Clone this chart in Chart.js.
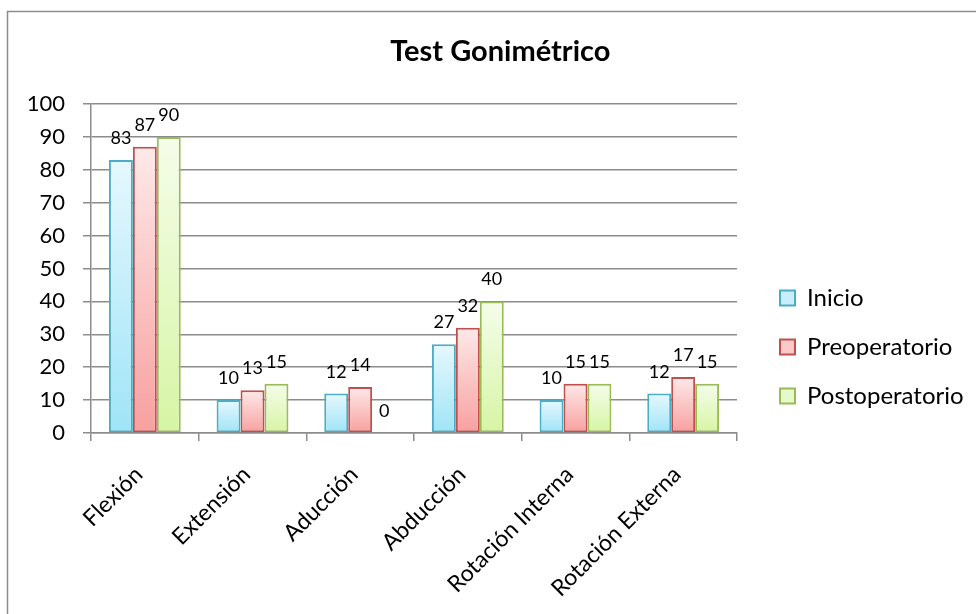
<!DOCTYPE html>
<html>
<head>
<meta charset="utf-8">
<script src="https://cdn.jsdelivr.net/npm/chart.js@4"></script>
<style>
  body { margin: 0; background: #fff; }
  #wrap { width: 976px; height: 614px; position: relative; }
</style>
</head>
<body>
<div id="wrap"><canvas id="grafica"></canvas></div>
<script>
const titulo = 'Test Gonimétrico';
const categorias = ['Flexión', 'Extensión', 'Aducción', 'Abducción', 'Rotación Interna', 'Rotación Externa'];
const series = ['Inicio', 'Preoperatorio', 'Postoperatorio'];
const inicio = [83, 10, 12, 27, 10, 12];
const preoperatorio = [87, 13, 14, 32, 15, 17];
const postoperatorio = [90, 15, 0, 40, 15, 15];
const ticksY = [0, 10, 20, 30, 40, 50, 60, 70, 80, 90, 100];

const fuente = 'Lato';
// colores: [arriba, abajo, borde, relleno leyenda]
const colores = [
  ['#e6f8fe', '#9fe4f7', '#4bacc6', '#c9eef9'],
  ['#fee9e9', '#f7a09f', '#c0504d', '#fbc9c8'],
  ['#f5fdea', '#d6f5a4', '#9bbb59', '#e6f9c9']
];

// ancho de la leyenda para dejarla en x=780
const medidor = document.createElement('canvas').getContext('2d');
medidor.font = '24px ' + fuente;
const anchoTexto = Math.max(...series.map(s => medidor.measureText(s).width));
const padDerecho = Math.max(0, 976 - 755 - (25 + 15 + 12 + anchoTexto + 10));

// degradado vertical por barra, usando la escala y
function degradado(i) {
  return function (c) {
    const col = colores[i];
    if (c.type !== 'data' || !c.chart.chartArea) return col[3];
    const y = c.chart.scales.y;
    const arriba = y.getPixelForValue(c.raw);
    const abajo = y.getPixelForValue(0);
    if (abajo - arriba < 1) return col[0];
    const g = c.chart.ctx.createLinearGradient(0, arriba, 0, abajo);
    g.addColorStop(0, col[0]);
    g.addColorStop(1, col[1]);
    return g;
  };
}

const marco = {
  id: 'marco',
  beforeDraw(chart) {
    const ctx = chart.ctx;
    ctx.save();
    ctx.strokeStyle = '#8c8c8c';
    ctx.lineWidth = 1.5;
    ctx.strokeRect(7.5, 11.5, 1000, 1000);
    ctx.restore();
  }
};

const etiquetas = {
  id: 'etiquetas',
  afterDatasetsDraw(chart) {
    const ctx = chart.ctx;
    ctx.save();
    ctx.font = '18px ' + fuente;
    ctx.fillStyle = '#000';
    ctx.textAlign = 'center';
    ctx.textBaseline = 'alphabetic';
    chart.data.datasets.forEach((ds, i) => {
      chart.getDatasetMeta(i).data.forEach((barra, j) => {
        ctx.fillText(ds.data[j], barra.x, barra.y - 16);
      });
    });
    ctx.restore();
  }
};

const datos = [inicio, preoperatorio, postoperatorio];
const ctx = document.getElementById('grafica').getContext('2d');
let myChart = new Chart(ctx, {
  type: 'bar',
  data: {
    labels: categorias,
    datasets: series.map((s, i) => ({
      label: s,
      data: datos[i],
      backgroundColor: degradado(i),
      borderColor: colores[i][2],
      borderWidth: 2,
      borderSkipped: false,
      categoryPercentage: 0.667,
      barPercentage: 1
    }))
  },
  options: {
    responsive: true,
    maintainAspectRatio: false,
    animation: false,
    layout: { padding: { left: 27, right: padDerecho, top: 0, bottom: 0 } },
    plugins: {
      title: {
        display: true,
        text: titulo,
        color: '#000',
        font: { family: fuente, size: 29, weight: 'bold' },
        padding: { top: 34.6, bottom: 34.6 }
      },
      legend: {
        position: 'right',
        maxWidth: 300,
        title: { display: true, text: '', font: { size: 10 }, padding: { top: 68, bottom: 0 } },
        labels: {
          color: '#000',
          font: { family: fuente, size: 24 },
          boxWidth: 15,
          boxHeight: 15,
          padding: 25,
          generateLabels(chart) {
            return chart.data.datasets.map((ds, i) => ({
              text: ds.label,
              fillStyle: colores[i][3],
              strokeStyle: colores[i][2],
              lineWidth: 2,
              fontColor: '#000',
              datasetIndex: i
            }));
          }
        }
      },
      tooltip: { enabled: false }
    },
    scales: {
      x: {
        afterFit(scale) { scale.paddingLeft = 0; scale.paddingRight = 0; scale.height = 181; },
        grid: { drawOnChartArea: false, offset: true, tickLength: 8, color: '#8c8c8c', lineWidth: 1.5 },
        border: { color: '#8c8c8c', width: 1.5 },
        ticks: {
          color: '#000',
          font: { family: fuente, size: 23 },
          minRotation: 45,
          maxRotation: 45,
          autoSkip: false,
          labelOffset: -6,
          padding: 20
        }
      },
      y: {
        min: 0,
        max: 100,
        afterBuildTicks(scale) { scale.ticks = ticksY.map(v => ({ value: v })); },
        afterFit(scale) { scale.width = 64; },
        grid: { color: '#8c8c8c', lineWidth: 1.5, tickLength: 8 },
        border: { color: '#8c8c8c', width: 1.5 },
        ticks: { color: '#000', font: { family: fuente, size: 22 }, padding: 18 }
      },
      hueco: {
        type: 'linear',
        position: 'right',
        grid: { display: false },
        border: { display: false },
        ticks: { display: false },
        afterFit(scale) { scale.width = 18; }
      }
    }
  },
  plugins: [marco, etiquetas]
});
</script>
</body>
</html>
